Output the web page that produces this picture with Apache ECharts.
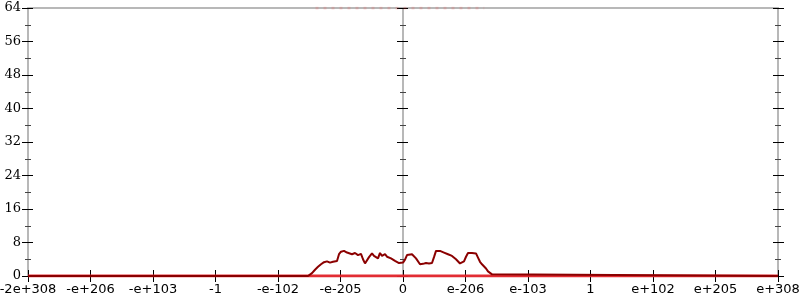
<!DOCTYPE html>
<html><head><meta charset="utf-8">
<script src="https://cdn.jsdelivr.net/npm/echarts@6/dist/echarts.min.js"></script>
<style>html,body{margin:0;padding:0;background:#fff}#c{width:800px;height:300px}</style>
</head><body><div id="c"></div>
<script>
const tickLabels = ['-2e+308','-e+206','-e+103','-1','-e-102','-e-205','0','e-206','e-103','1','e+102','e+205','e+308'];
const yTicks = [0,8,16,24,32,40,48,56,64];
const histX = [-6,-1.52,-1.456,-1.408,-1.36,-1.312,-1.264,-1.216,-1.168,-1.12,-1.088,-1.056,-1.024,-0.992,-0.944,-0.896,-0.864,-0.816,-0.768,-0.72,-0.672,-0.64,-0.608,-0.576,-0.544,-0.496,-0.464,-0.432,-0.4,-0.368,-0.336,-0.288,-0.256,-0.224,-0.192,-0.16,-0.128,-0.096,-0.064,-0.032,0,0.032,0.064,0.096,0.144,0.176,0.208,0.24,0.272,0.32,0.368,0.416,0.464,0.496,0.528,0.56,0.592,0.624,0.656,0.688,0.72,0.752,0.784,0.816,0.848,0.88,0.912,0.944,0.976,1.008,1.04,1.072,1.104,1.136,1.168,1.2,1.232,1.264,1.296,1.328,1.36,1.392,1.424,1.456,6];
const histY = [0,0,0.7,1.5,2.2,2.8,3.3,3.5,3.2,3.4,3.0,3.6,5.2,5.8,6.0,5.6,5.9,5.2,5.5,5.0,5.3,4.0,3.0,3.2,4.5,5.4,4.8,5.0,4.2,5.5,4.8,5.2,4.6,4.8,4.2,3.8,3.6,3.9,3.1,3.0,3.2,3.9,5.0,5.4,5.2,5.0,4.2,3.8,2.8,2.9,3.1,3.0,3.1,4.5,6.0,6.4,6.0,6.2,5.6,5.8,5.2,5.0,4.8,4.5,4.0,3.6,3.0,2.8,3.5,4.6,5.5,5.8,5.5,5.9,5.4,4.4,3.4,2.8,2.4,1.8,1.1,0.8,0.4,0,0];
const baseX = [-6, 6];
const baseY = [0, 0];
const topX = [-1.4, 1.3];
const topY = [64, 64];

const gray = '#b8b8b8';
const chart = echarts.init(document.getElementById('c'), null, {renderer:'canvas'});
function yAx(pos, inside, withLine, withLabel, onZero){
  return {type:'value', gridIndex:0, position:pos, min:0, max:64, interval:8,
    axisLine:{show:withLine, onZero:!!onZero, onZeroAxisIndex:onZero?0:undefined, lineStyle:{color:gray, width:2}},
    axisTick:{show:true, inside:inside, length:inside?5:6, lineStyle:{color:'#000', width:1}},
    minorTick:{show:true, splitNumber:2, length:3, lineStyle:{color:'#444', width:1}},
    axisLabel:{show:withLabel, margin:7, color:'#000', fontFamily:'DejaVu Serif', fontSize:13,
      formatter:v=>yTicks.includes(v)?String(v):''},
    splitLine:{show:false}};
}
const xFmt = v => { const i = Math.round(v+6); return tickLabels[i] !== undefined ? tickLabels[i] : ''; };
chart.setOption({
  animation:false,
  grid:{left:28,right:22,top:8,bottom:24,containLabel:false,outerBoundsMode:'none'},
  xAxis:[
    {type:'value', position:'bottom', min:-6, max:6, interval:1,
     axisLine:{show:true, onZero:false, lineStyle:{color:gray, width:2}},
     axisTick:{show:true, length:6, lineStyle:{color:'#000'}},
     axisLabel:{show:true, margin:7, color:'#000', fontFamily:'DejaVu Sans', fontSize:13, formatter:xFmt},
     splitLine:{show:false}},
    {type:'value', position:'bottom', min:-6, max:6, interval:1,
     axisLine:{show:false, onZero:false}, axisTick:{show:true, inside:true, length:6, lineStyle:{color:'#000'}},
     axisLabel:{show:false}, splitLine:{show:false}},
    {type:'value', position:'top', min:-6, max:6, interval:1,
     axisLine:{show:true, onZero:false, lineStyle:{color:gray, width:2}}, axisTick:{show:false},
     axisLabel:{show:false}, splitLine:{show:false}}
  ],
  yAxis:[
    yAx('left',false,true,true,false),
    yAx('left',true,false,false,false),
    yAx('right',false,true,false,false),
    yAx('right',true,false,false,false),
    yAx('left',false,true,false,true),
    yAx('left',true,false,false,true)
  ],
  series:[
    {type:'line', xAxisIndex:0, yAxisIndex:0, data:topX.map((x,i)=>[x,topY[i]]), symbol:'none',
     lineStyle:{color:'#ff4040', width:3, type:[3,5], opacity:0.18}, z:3},
    {type:'line', xAxisIndex:0, yAxisIndex:0, data:baseX.map((x,i)=>[x,baseY[i]]), symbol:'none',
     lineStyle:{color:'#e4252b', width:3, opacity:0.95}, z:4},
    {type:'line', xAxisIndex:0, yAxisIndex:0, data:histX.map((x,i)=>[x,histY[i]]), symbol:'none',
     lineStyle:{color:'#8b0000', width:2}, z:5}
  ]
});
</script></body></html>
